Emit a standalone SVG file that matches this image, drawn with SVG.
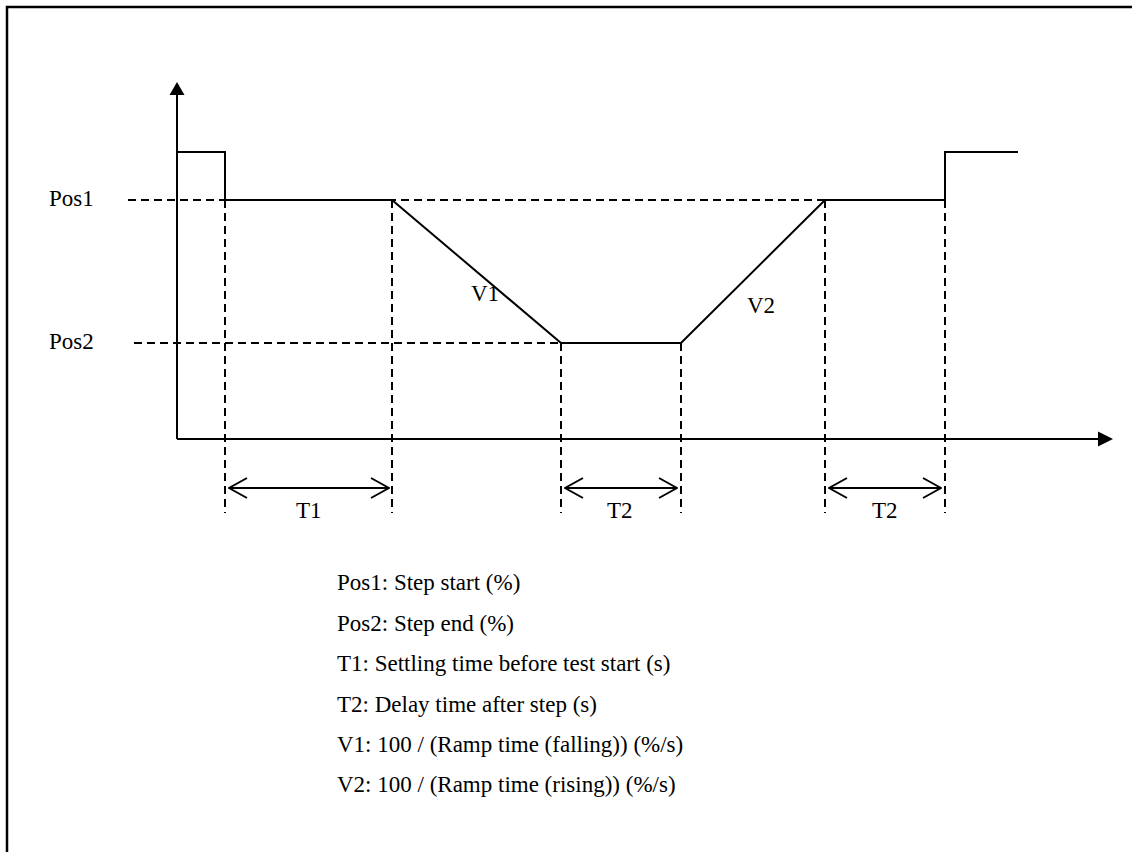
<svg xmlns="http://www.w3.org/2000/svg" width="1132" height="852" viewBox="0 0 1132 852">
<style>
text{font-family:"Liberation Serif","Times New Roman",serif;font-size:23px;fill:#000}
.solid{fill:none;stroke:#000;stroke-width:2}
.dash{fill:none;stroke:#000;stroke-width:2;stroke-dasharray:8 5}
.frame{fill:none;stroke:#000;stroke-width:2.5}
</style>
<defs>
<marker id="open" viewBox="0 0 20 22" refX="19" refY="11" markerWidth="20" markerHeight="22" markerUnits="userSpaceOnUse" orient="auto-start-reverse">
<path d="M1,1 L19,11 L1,21" fill="none" stroke="#000" stroke-width="2"/>
</marker>
</defs>
<g id="frame">
<path class="frame" d="M7,852 L7,7 L1132,7"/>
</g>
<g id="axes">
<line class="solid" x1="177" y1="94" x2="177" y2="439"/>
<polygon points="177,82 169.5,95 184.5,95" fill="#000"/>
<line class="solid" x1="177" y1="439" x2="1099" y2="439"/>
<polygon points="1113,439 1098,431.5 1098,446.5" fill="#000"/>
</g>
<g id="guides">
<line class="dash" x1="128" y1="200" x2="825" y2="200"/>
<line class="dash" x1="134" y1="343" x2="561" y2="343"/>
<line class="dash" x1="225" y1="200" x2="225" y2="513"/>
<line class="dash" x1="392" y1="200" x2="392" y2="513"/>
<line class="dash" x1="561" y1="343" x2="561" y2="513"/>
<line class="dash" x1="681" y1="343" x2="681" y2="513"/>
<line class="dash" x1="825" y1="200" x2="825" y2="513"/>
<line class="dash" x1="945" y1="200" x2="945" y2="513"/>
</g>
<g id="signal">
<polyline class="solid" points="177,152 225,152 225,200 392,200 561,343 681,343 825,200 945,200 945,152 1018,152"/>
</g>
<g id="connectors">
<line class="solid" x1="229" y1="488" x2="389" y2="488" marker-start="url(#open)" marker-end="url(#open)"/>
<line class="solid" x1="565" y1="488" x2="677" y2="488" marker-start="url(#open)" marker-end="url(#open)"/>
<line class="solid" x1="829" y1="488" x2="941" y2="488" marker-start="url(#open)" marker-end="url(#open)"/>
</g>
<g id="labels">
<text x="49" y="206">Pos1</text>
<text x="49" y="349">Pos2</text>
<text x="471" y="301">V1</text>
<text x="747" y="313">V2</text>
<text x="296" y="518">T1</text>
<text x="607" y="518">T2</text>
<text x="872" y="518">T2</text>
</g>
<g id="legend">
<text x="337" y="590">Pos1: Step start (%)</text>
<text x="337" y="631">Pos2: Step end (%)</text>
<text x="337" y="671">T1: Settling time before test start (s)</text>
<text x="337" y="712">T2: Delay time after step (s)</text>
<text x="337" y="752">V1: 100 / (Ramp time (falling)) (%/s)</text>
<text x="337" y="792">V2: 100 / (Ramp time (rising)) (%/s)</text>
</g>
</svg>
